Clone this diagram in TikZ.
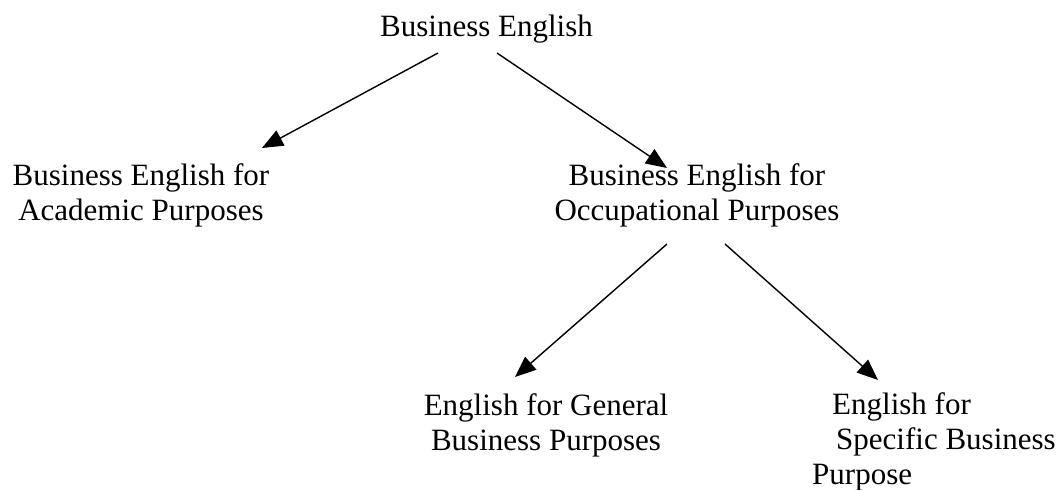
\documentclass[tikz,border=0pt]{standalone}
\usepackage{fontspec}
\setmainfont{Liberation Serif}
\usetikzlibrary{arrows.meta}
\begin{document}
\begin{tikzpicture}[x=1pt,y=-1pt,
  label text/.style={inner sep=0pt,font=\fontsize{31}{35}\selectfont},
  arr/.style={line width=1.4pt,-{Triangle[length=21pt,width=17pt]}}]
\useasboundingbox (0,0) rectangle (1061,490);

% category nodes (placed by the baseline of their last line)
\node[label text,anchor=base west] (be) at (380,36) {Business English};
\node[label text,align=center,anchor=base] (beap) at (141,220)
  {Business English for\\Academic Purposes};
\node[label text,align=center,anchor=base] (beop) at (697,220)
  {Business English for\\Occupational Purposes};
\node[label text,align=center,anchor=base] (egbp) at (546,450)
  {English for General\\Business Purposes};
\node[label text,align=left,anchor=base west] (esbp) at (812,484)
  {\hspace*{20pt}English for\\\hspace*{24pt}Specific Business\\Purpose};

% arrow end points
\coordinate (beL)   at (438,53);
\coordinate (beR)   at (497,53);
\coordinate (beapT) at (262,148);
\coordinate (beopT) at (667,168);
\coordinate (beopL) at (667,244);
\coordinate (beopR) at (725,244);
\coordinate (egbpT) at (515,377);
\coordinate (esbpT) at (878,380);

% connectors
\draw[arr] (beL) -- (beapT);
\draw[arr] (beR) -- (beopT);
\draw[arr] (beopL) -- (egbpT);
\draw[arr] (beopR) -- (esbpT);
\end{tikzpicture}
\end{document}
